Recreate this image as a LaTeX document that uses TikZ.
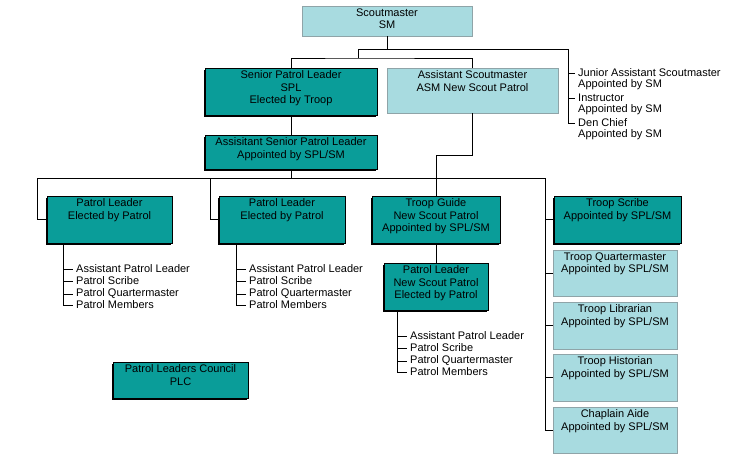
\documentclass[tikz,border=0pt]{standalone}
\usepackage{fontspec}
\setmainfont{Liberation Sans}
\definecolor{teal1}{HTML}{0A9D99}
\definecolor{lite}{HTML}{A8DBE0}
\definecolor{liteb}{HTML}{8FA4A8}
\usetikzlibrary{shadows}
\tikzset{
  dk/.style={fill=teal1,draw=black,line width=0.6pt,inner sep=0pt,
    drop shadow={shadow xshift=-1.5pt,shadow yshift=-1.5pt,fill=black,opacity=1}},
  lt/.style={fill=lite,draw=liteb,line width=0.8pt,inner sep=0pt},
  ln/.style={line width=0.8pt,black},
  txt/.style={font=\fontsize{11}{12.5}\selectfont,align=center,inner sep=0pt},
  lst/.style={font=\fontsize{11}{12.5}\selectfont,anchor=west,inner sep=0pt}
}
\newcommand{\bx}[7]{%
  \node[#2,minimum width={#5-#3},minimum height={#6-#4}] (#1) at ({(#3+#5)/2},{(#4+#6)/2}) {};
  \node[txt,anchor=north] (#1t) at ([yshift=-3]#1.north) {#7};}
\begin{document}
\begin{tikzpicture}[x=1pt,y=-1pt]
\useasboundingbox (0,0) rectangle (743,459);
% boxes
\bx{sm}{lt}{302}{6}{472}{36}{Scoutmaster\\SM}
\bx{spl}{dk}{205}{68}{377}{115}{Senior Patrol Leader\\SPL\\Elected by Troop}
\bx{asm}{lt}{387}{68}{558}{113}{Assistant Scoutmaster\\ASM New Scout Patrol}
\bx{aspl}{dk}{205}{135}{377}{169}{Assisitant Senior Patrol Leader\\Appointed by SPL/SM}
\bx{pla}{dk}{47}{196}{172}{243}{Patrol Leader\\Elected by Patrol}
\bx{plb}{dk}{219}{196}{345}{243}{Patrol Leader\\Elected by Patrol}
\bx{tg}{dk}{372}{196}{500}{243}{Troop Guide\\New Scout Patrol\\Appointed by SPL/SM}
\bx{ts}{dk}{554}{196}{681}{243}{Troop Scribe\\Appointed by SPL/SM}
\bx{pln}{dk}{384}{263}{488}{310}{Patrol Leader\\New Scout Patrol\\Elected by Patrol}
\bx{tq}{lt}{553}{250}{677}{296}{Troop Quartermaster\\Appointed by SPL/SM}
\bx{tl}{lt}{553}{302}{677}{349}{Troop Librarian\\Appointed by SPL/SM}
\bx{th}{lt}{553}{354}{677}{401}{Troop Historian\\Appointed by SPL/SM}
\bx{ca}{lt}{553}{407}{677}{453}{Chaplain Aide\\Appointed by SPL/SM}
\bx{plc}{dk}{113}{362}{248}{398}{Patrol Leaders Council\\PLC}
% top connectors
\coordinate (j1) at (387,49); \coordinate (j2) at (358,49); \coordinate (j3) at (568,49);
\draw[ln] (sm.south) -- (j1);
\draw[ln] (j2) -- (j3) -- (568,123) -- (575,123);
\draw[ln] (568,73) -- (575,73) (568,98) -- (575,98);
\draw[ln] (j2) -- (358,58);
\draw[ln] (spl.north) |- (358,58) -| (asm.north);
\node[lst] (r1) at (578,73) {Junior Assistant Scoutmaster};
\node[lst] (r2) at (578,85) {Appointed by SM};
\node[lst] (r3) at (578,98) {Instructor};
\node[lst] (r4) at (578,110) {Appointed by SM};
\node[lst] (r5) at (578,123) {Den Chief};
\node[lst] (r6) at (578,135) {Appointed by SM};
\draw[ln] (spl.south) -- (aspl.north);
\draw[ln] (aspl.south) -- (291,178);
\draw[ln] (37,178) -- (545,178);
\draw[ln] (asm.south) |- (436,155) -- (tg.north);
\draw[ln] (37,178) |- (pla.west);
\draw[ln] (210,178) |- (plb.west);
\draw[ln] (545,178) |- (ca.west);
\foreach \b in {ts,tq,tl,th} \draw[ln] (ca.west -| 545,0) |- (\b.west);
\draw[ln] (tg.south) -- (pln.north);
% patrol lists
\foreach \n/\x/\y in {pla/63/243, plb/236/243, pln/397/310}{
  \draw[ln] (\x,\y) -- (\x,\y+62) -- (\x+10,\y+62);
  \foreach \d in {26,38,51} \draw[ln] (\x,\y+\d) -- (\x+10,\y+\d);
  \node[lst] (\n a) at (\x+13,\y+26) {Assistant Patrol Leader};
  \node[lst] (\n b) at (\x+13,\y+38) {Patrol Scribe};
  \node[lst] (\n c) at (\x+13,\y+51) {Patrol Quartermaster};
  \node[lst] (\n d) at (\x+13,\y+62) {Patrol Members};
}
\end{tikzpicture}
\end{document}
